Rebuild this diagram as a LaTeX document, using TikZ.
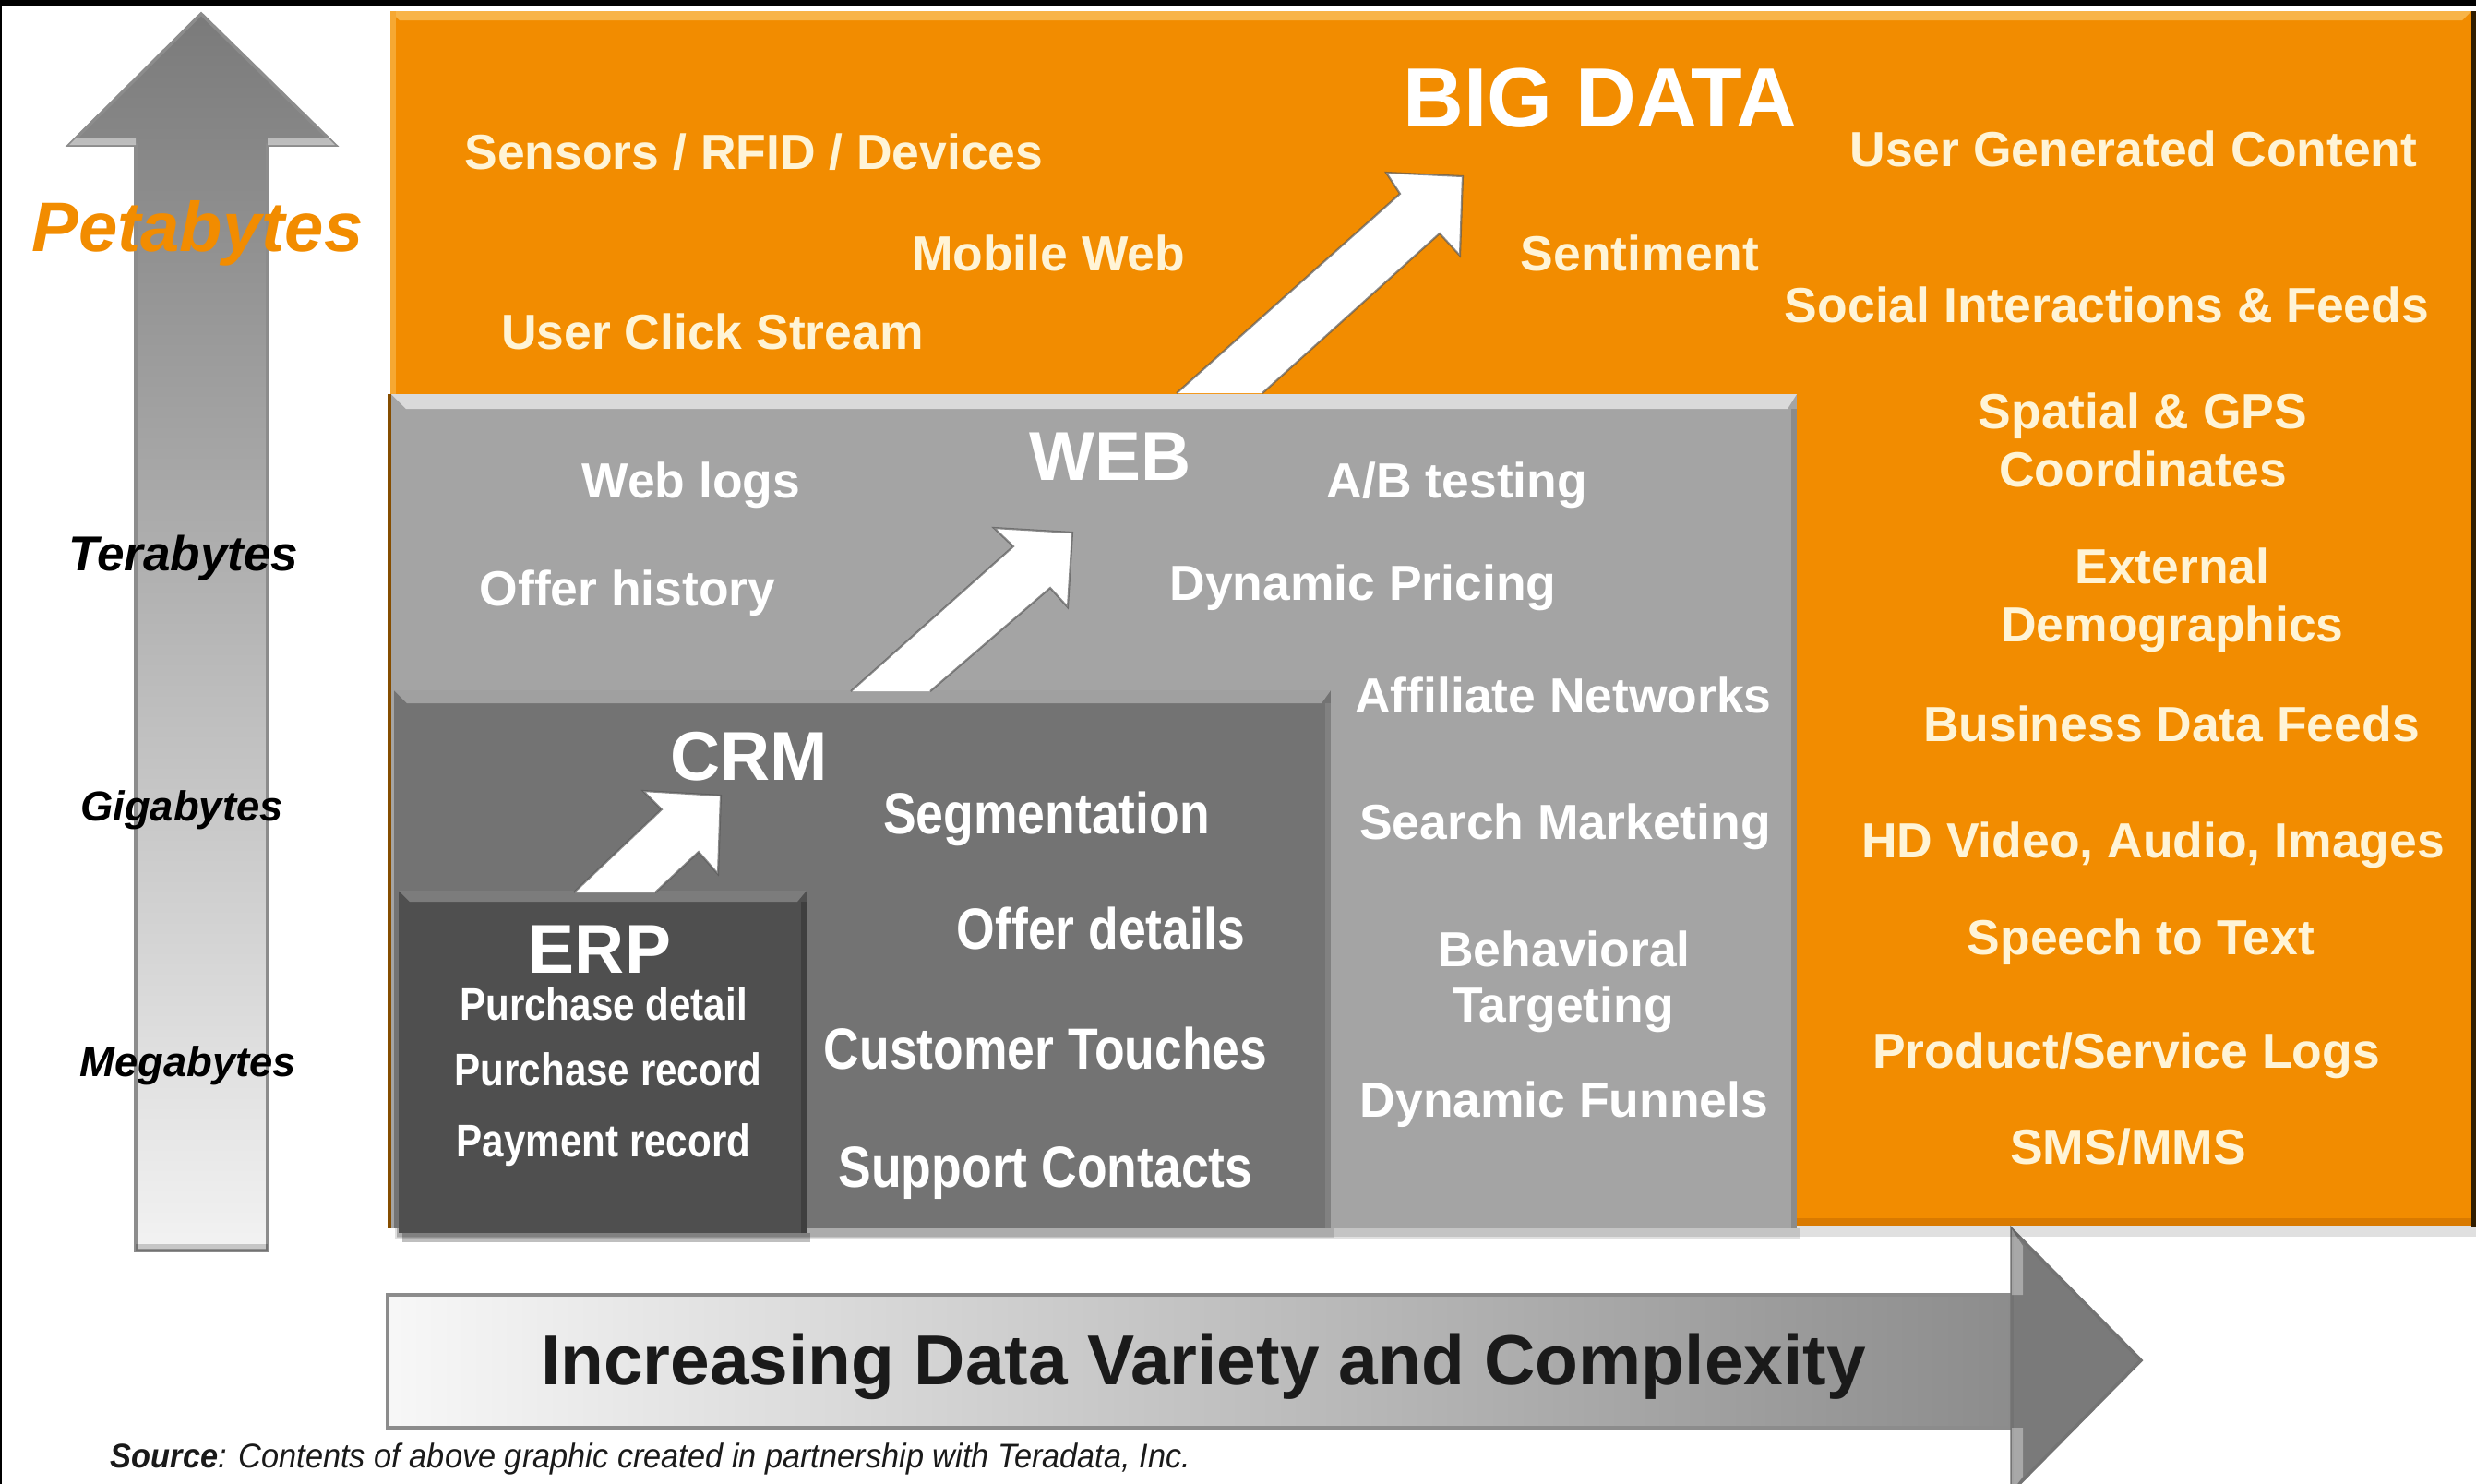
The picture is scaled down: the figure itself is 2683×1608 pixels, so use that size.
\documentclass[tikz,border=0pt]{standalone}
\usepackage{fontspec}
\setmainfont{Liberation Sans}
\newfontfamily\condfont[FakeStretch=0.85]{Liberation Sans}
\newfontfamily\srcfont[FakeStretch=0.93]{Liberation Sans}
\usetikzlibrary{calc}

\definecolor{bdorange}{HTML}{F28C00}
\definecolor{orangehi}{HTML}{F8B448}
\definecolor{orangelo}{HTML}{D97A00}
\definecolor{cream}{HTML}{FFF4D6}
\definecolor{webgray}{HTML}{A4A4A4}
\definecolor{webhi}{HTML}{DADADA}
\definecolor{crmgray}{HTML}{737373}
\definecolor{crmhi}{HTML}{A0A0A0}
\definecolor{erpgray}{HTML}{4F4F4F}
\definecolor{erphi}{HTML}{7C7C7C}
\definecolor{arrowline}{HTML}{8C8C8C}
\definecolor{darktxt}{HTML}{1A1A1A}

\newcommand\fsz[1]{\fontsize{#1pt}{#1pt}\selectfont}

\tikzset{
  every node/.style={inner sep=0pt, outer sep=0pt},
  otxt/.style={anchor=base, text=cream, font=\fsz{15.2}\bfseries},
  wtxt/.style={anchor=base, text=white, font=\fsz{15.2}\bfseries},
  ctxt/.style={anchor=base, text=white, font=\condfont\fsz{17.9}\bfseries},
  etxt/.style={anchor=base, text=white, font=\condfont\fsz{14.1}\bfseries},
  ttl/.style={anchor=base, text=white, font=\fsz{21.3}\bfseries},
  sizelbl/.style={anchor=base, text=black, font=\fsz{15.1}\bfseries\itshape},
  whitearrow/.style={fill=white, draw=black!65, draw opacity=.7, line width=.6pt, line join=miter},
  boxshadow/.style={fill=black, opacity=.12}
}

\begin{document}
\begin{tikzpicture}[x=0.01cm, y=-0.01cm]
\useasboundingbox (0,0) rectangle (2683,1608);
\clip (0,0) rectangle (2683,1608);
\fill[white] (0,0) rectangle (2683,1608);

% frame
\fill[black] (0,0) rectangle (2683,6);
\fill[black] (0,0) rectangle (2,1608);

% ---------- vertical volume arrow ----------
\shade[top color=black!52, middle color=black!27, bottom color=black!5, draw=arrowline, line width=1pt]
  (147,1355) -- (147,157) -- (75,157) -- (218,15) -- (363,157) -- (290,157) -- (290,1355) -- cycle;
\fill[white, opacity=.45] (75,157) -- (147,157) -- (147,150) -- (82,150) -- cycle;
\fill[white, opacity=.45] (363,157) -- (290,157) -- (290,150) -- (356,150) -- cycle;
\fill[black, opacity=.18] (147,1348) rectangle (290,1355);

% ---------- horizontal variety arrow ----------
\shade[left color=black!3, middle color=black!17, right color=black!45, draw=arrowline, line width=1pt]
  (420,1403) rectangle (2180,1547);
\fill[black!52, draw=black!55, line width=1pt]
  (2180,1403) -- (2180,1332) -- (2320,1474) -- (2180,1616) -- (2180,1547) -- cycle;
\fill[white, opacity=.35] (2180,1332) -- (2192,1350) -- (2192,1403) -- (2180,1403) -- cycle;
\fill[white, opacity=.35] (2180,1547) -- (2192,1547) -- (2192,1600) -- (2180,1616) -- cycle;

% ---------- BIG DATA layer ----------
\fill[boxshadow] (430,1328) rectangle (2683,1340);
\fill[bdorange] (423,12) rectangle (2678,1328);
\fill[orangehi] (423,12) -- (2678,12) -- (2668,22) -- (433,22) -- cycle;
\fill[orangehi!70!bdorange] (423,12) rectangle (429,1328);
\fill[orangelo] (423,1320) rectangle (2678,1328);
\fill[black!80!bdorange] (2678,12) rectangle (2683,1330);

% ---------- WEB layer ----------
\fill[boxshadow] (428,1331) rectangle (1950,1343);
\fill[black!45!bdorange] (420,427) rectangle (425,1331);
\fill[webgray] (424,427) rectangle (1947,1331);
\fill[webhi] (424,427) -- (1947,427) -- (1937,443) -- (440,443) -- cycle;
\fill[black, opacity=.15] (1941,443) rectangle (1947,1331);

% arrow WEB -> BIG DATA
\filldraw[whitearrow] (1275,426) -- (1517,210) -- (1502,187) -- (1585,191)
  -- (1582,277) -- (1560,253) -- (1368,426);

% ---------- CRM layer ----------
\fill[boxshadow] (430,1331) rectangle (1445,1341);
\fill[crmgray] (427,748) rectangle (1442,1331);
\fill[crmhi] (427,748) -- (1442,748) -- (1432,762) -- (441,762) -- cycle;
\fill[white, opacity=.10] (1436,762) rectangle (1442,1331);

% arrow CRM -> WEB
\filldraw[whitearrow] (922,749) -- (1098,592) -- (1077,572) -- (1162,577)
  -- (1157,658) -- (1138,637) -- (1008,749);

% ---------- ERP layer ----------
\fill[black, opacity=.25] (436,1336) rectangle (878,1346);
\fill[erpgray] (432,965) rectangle (874,1336);
\fill[erphi] (432,965) -- (874,965) -- (864,977) -- (444,977) -- cycle;
\fill[black, opacity=.2] (868,977) rectangle (874,1336);

% arrow ERP -> CRM
\filldraw[whitearrow] (622,967) -- (717,877) -- (697,857) -- (781,862)
  -- (778,947) -- (757,923) -- (710,967);

% ---------- texts: BIG DATA ----------
\node[otxt, text=white, font=\fsz{25.9}\bfseries] (bigdata) at (1734,137) {BIG DATA};
\node[otxt] (sensors) at (817,183) {Sensors / RFID / Devices};
\node[otxt] (mobile) at (1136,293) {Mobile Web};
\node[otxt] (click) at (772,378) {User Click Stream};
\node[otxt] (ugc) at (2312,180) {User Generated Content};
\node[otxt] (senti) at (1777,293) {Sentiment};
\node[otxt] (social) at (2283,349) {Social Interactions \& Feeds};
\node[otxt] (spatial) at (2322,464) {Spatial \& GPS};
\node[otxt] (coord) at (2322,527) {Coordinates};
\node[otxt] (ext) at (2354,632) {External};
\node[otxt] (demo) at (2354,695) {Demographics};
\node[otxt] (bizfeeds) at (2353,803) {Business Data Feeds};
\node[otxt] (hd) at (2333,929) {HD Video, Audio, Images};
\node[otxt] (speech) at (2320,1034) {Speech to Text};
\node[otxt] (prodlogs) at (2304,1157) {Product/Service Logs};
\node[otxt] (sms) at (2306,1261) {SMS/MMS};

% ---------- texts: WEB ----------
\node[ttl] (web) at (1203,520) {WEB};
\node[wtxt] (weblogs) at (749,539) {Web logs};
\node[wtxt] (ab) at (1579,539) {A/B testing};
\node[wtxt] (offhist) at (680,656) {Offer history};
\node[wtxt] (dynprice) at (1477,650) {Dynamic Pricing};
\node[wtxt] (affil) at (1694,772) {Affiliate Networks};
\node[wtxt] (search) at (1696,909) {Search Marketing};
\node[wtxt] (behav) at (1695,1047) {Behavioral};
\node[wtxt] (target) at (1694,1107) {Targeting};
\node[wtxt] (funnels) at (1695,1210) {Dynamic Funnels};

% ---------- texts: CRM ----------
\node[ttl] (crm) at (812,845) {CRM};
\node[ctxt] (segm) at (1134,903) {Segmentation};
\node[ctxt] (offdet) at (1193,1028) {Offer details};
\node[ctxt] (touch) at (1133,1158) {Customer Touches};
\node[ctxt] (support) at (1133,1286) {Support Contacts};

% ---------- texts: ERP ----------
\node[ttl] (erp) at (650,1054) {ERP};
\node[etxt] (purdet) at (654,1105) {Purchase detail};
\node[etxt] (purrec) at (659,1176) {Purchase record};
\node[etxt] (payrec) at (654,1253) {Payment record};

% ---------- volume scale ----------
\node[sizelbl, text=bdorange, font=\fsz{21.6}\bfseries\itshape] (peta) at (214,272) {Petabytes};
\node[sizelbl] (tera) at (199,618) {Terabytes};
\node[sizelbl, font=\fsz{12.9}\bfseries\itshape] (giga) at (197,889) {Gigabytes};
\node[sizelbl, font=\fsz{12.9}\bfseries\itshape] (mega) at (204,1166) {Megabytes};

% ---------- variety axis ----------
\node[anchor=base, text=darktxt, font=\fsz{21.8}\bfseries] (variety) at (1304,1500)
  {Increasing Data Variety and Complexity};

\node[anchor=base west, text=darktxt, font=\srcfont\fsz{10.5}\itshape] (source) at (120,1590)
  {\textbf{Source}: Contents of above graphic created in partnership with Teradata, Inc.};
\end{tikzpicture}
\end{document}
